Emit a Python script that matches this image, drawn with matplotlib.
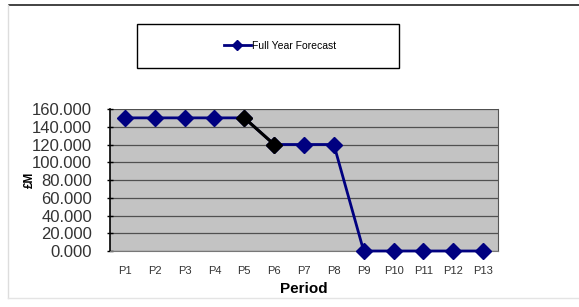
import numpy as np
import matplotlib.pyplot as plt
from matplotlib.patches import Rectangle
from matplotlib.lines import Line2D

plt.rcParams['font.family'] = ['Liberation Sans', 'DejaVu Sans']

periods = ['P1', 'P2', 'P3', 'P4', 'P5', 'P6', 'P7', 'P8', 'P9', 'P10', 'P11', 'P12', 'P13']
forecast = [150, 150, 150, 150, 150, 120, 120, 120, 0, 0, 0, 0, 0]
yticks = [0, 20, 40, 60, 80, 100, 120, 140, 160]

W, H = 579, 307
fig = plt.figure(figsize=(W / 100, H / 100), dpi=100)

# outer chart frame
fig.add_artist(Line2D([9 / W, 1], [1 - 5 / H, 1 - 5 / H], color='#222222', lw=1.2))
fig.add_artist(Line2D([8 / W, 8 / W], [1 - 5 / H, 1 - 298 / H], color='#dddddd', lw=1))
fig.add_artist(Line2D([8 / W, 1], [1 - 298 / H, 1 - 298 / H], color='#e4e4e4', lw=1))

# plot area
ax = fig.add_axes([110 / W, 1 - 251 / H, 388 / W, 142 / H])
ax.set_facecolor('#c3c3c3')
x = np.arange(len(periods))
ax.plot(x, forecast, color='#000080', lw=2, marker='D', ms=8.5,
        markerfacecolor='#000080', markeredgecolor='#000080', zorder=3, clip_on=False)
ax.plot(x[4:6], forecast[4:6], color='black', lw=2.2, marker='D', ms=8.5,
        markerfacecolor='black', markeredgecolor='black', zorder=4)

ax.set_xlim(-0.5, len(periods) - 0.5)
ax.set_ylim(0, 160)
ax.set_yticks(yticks)
ax.set_yticklabels(['%.3f' % v for v in yticks], fontsize=12, color='#333333')
ax.set_xticks(x)
ax.set_xticklabels(periods, fontsize=8, color='#333333')
ax.yaxis.grid(True, color='#505050', lw=0.9)
ax.set_axisbelow(True)
ax.tick_params(axis='y', length=4, width=1, color='black', direction='inout', pad=11)
ax.tick_params(axis='x', length=0, pad=11)
ax.spines['left'].set_color('black')
ax.spines['left'].set_linewidth(1.2)
ax.spines['right'].set_color('#555555')
ax.spines['top'].set_visible(False)
ax.spines['bottom'].set_color('#777777')

ax.set_xlabel('Period', fontsize=11, fontweight='bold', labelpad=4)
ax.set_ylabel('£M', fontsize=8.5, fontweight='bold')
ax.yaxis.set_label_coords(-0.19, 0.5)

# legend box
fig.add_artist(Rectangle((137 / W, 1 - 68 / H), 262 / W, 44 / H, transform=fig.transFigure,
                         facecolor='white', edgecolor='black', lw=1))
fig.legend([Line2D([], [], color='#000080', lw=2, marker='D', ms=5)],
           ['Full Year Forecast'], loc='center', bbox_to_anchor=(280 / W, 1 - 46 / H),
           frameon=False, fontsize=7.5, handlelength=2.6, handletextpad=0.1)

fig.savefig('out.png', dpi=100)
